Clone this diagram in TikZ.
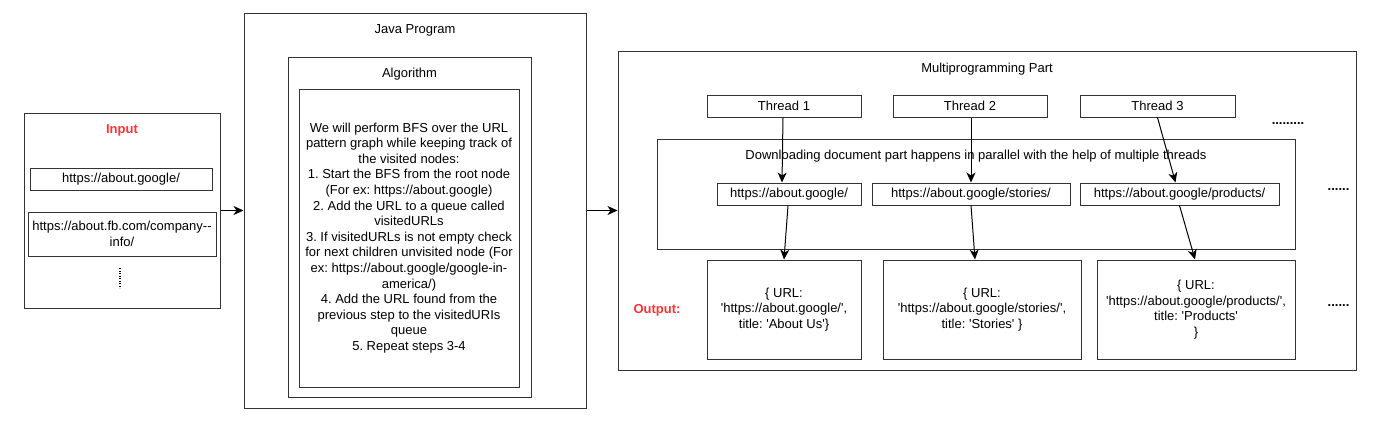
\documentclass[tikz,border=0pt]{standalone}
\usepackage{fontspec}
\setmainfont{Liberation Sans}[Ligatures=TeXOff]
\usetikzlibrary{arrows.meta}
\definecolor{ttl}{HTML}{FF3333}
\definecolor{edge}{HTML}{333333}
\tikzset{
  box/.style={draw=edge, line width=1pt, fill=white, inner sep=0pt, align=center},
  lbl/.style={inner sep=0pt, align=center, text=black, anchor=base},
  redlbl/.style={inner sep=0pt, text=ttl, anchor=base, font=\fontsize{13}{15.6}\selectfont\bfseries},
  arr/.style={draw=black, line width=1pt, -{Stealth[length=10pt,width=9pt,inset=3pt]}},
  dotsl/.style={inner sep=0pt, text=black, font=\fontsize{13}{15.6}\selectfont\bfseries}
}
\begin{document}
\frenchspacing
\begin{tikzpicture}[x=1pt,y=-1pt, font=\fontsize{13}{15.6}\selectfont]
\useasboundingbox (0,0) rectangle (1381,421);
% Input
\node[box, minimum width=196pt, minimum height=195pt] (input) at (122,210.5) {};
\node[redlbl] (inputt) at (122,133) {Input};
\node[box, minimum width=182pt, minimum height=22pt] (in1) at (121,179) {https://about.google/};
\node[box, minimum width=188pt, minimum height=44pt] (in2) at (122,234) {https://about.fb.com/company--\\info/};
\coordinate (dA) at (120,268);
\coordinate (dB) at (120,288);
\draw[line width=2pt, dash pattern=on 1.3pt off 1.2pt] (dA) -- (dB);
% Java
\node[box, minimum width=342pt, minimum height=395pt] (java) at (415,210.5) {};
\node[lbl] (javat) at (415,33) {Java Program};
\node[box, minimum width=243pt, minimum height=340pt] (algo) at (409.5,227) {};
\node[lbl] (algot) at (409.5,77) {Algorithm};
\node[box, minimum width=220pt, minimum height=298pt] (algtext) at (409,238) {We will perform BFS over the URL\\pattern graph while keeping track of\\the visited nodes:\\1. Start the BFS from the root node\\(For ex: https://about.google)\\2. Add the URL to a queue called\\visitedURLs\\3. If visitedURLs is not empty check\\for next children unvisited node (For\\ex: https://about.google/google-in-\\america/)\\4. Add the URL found from the\\previous step to the visitedURIs\\queue\\5. Repeat steps 3-4};
% Multiprogramming
\node[box, minimum width=738pt, minimum height=319pt] (multi) at (987,210.5) {};
\node[lbl] (multit) at (987,72) {Multiprogramming Part};
\node[box, minimum width=154pt, minimum height=22pt] (t1) at (784,106) {Thread 1};
\node[box, minimum width=154pt, minimum height=22pt] (t2) at (970,106) {Thread 2};
\node[box, minimum width=155pt, minimum height=22pt] (t3) at (1157.5,106) {Thread 3};
\node[dotsl] (dots1) at (1288,124) {.........};
\node[box, minimum width=638pt, minimum height=110pt] (down) at (976,194) {};
\node[lbl] (downt) at (976,159) {Downloading document part happens in parallel with the help of multiple threads};
\node[box, minimum width=144pt, minimum height=22pt] (ua) at (789,194) {https://about.google/};
\node[box, minimum width=198pt, minimum height=22pt] (ub) at (971,194) {https://about.google/stories/};
\node[box, minimum width=199pt, minimum height=22pt] (uc) at (1179.5,194) {https://about.google/products/};
\node[dotsl] (dots2) at (1338.5,190) {......};
\node[redlbl] (outl) at (657,313) {Output:};
\node[box, minimum width=154pt, minimum height=99pt] (oa) at (784,309.5) {\{ URL:\\'https://about.google/',\\title: 'About Us'\}};
\node[box, minimum width=198pt, minimum height=99pt] (ob) at (982,309.5) {\{ URL:\\'https://about.google/stories/',\\title: 'Stories' \}};
\node[box, minimum width=198pt, minimum height=99pt] (oc) at (1196,309.5) {\{ URL:\\'https://about.google/products/',\\title: 'Products'\\\}};
\node[dotsl] (dots3) at (1338.5,306) {......};
% connectors
\draw[arr] (input.east) -- (java.west);
\draw[arr] (java.east) -- (multi.west);
\draw[arr] ([xshift=-1pt]t1.south) -- ([xshift=-7pt]ua.north);
\draw[arr] ([xshift=1pt]t2.south) -- (ub.north);
\draw[arr] (t3.south) -- ([xshift=-4pt]uc.north);
\draw[arr] ([xshift=-1pt]ua.south) -- (oa.north);
\draw[arr] (ub.south) -- ([xshift=-7pt]ob.north);
\draw[arr] (uc.south) -- ([xshift=-1pt]oc.north);
\end{tikzpicture}
\end{document}
